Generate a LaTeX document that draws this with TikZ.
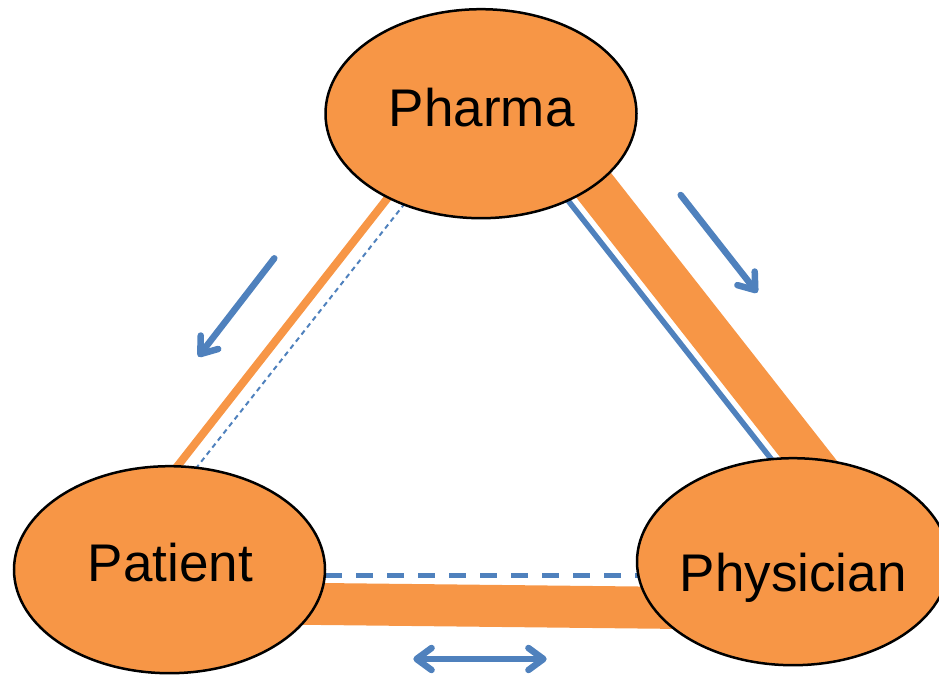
\documentclass[tikz,border=0pt]{standalone}
\usepackage{fontspec}
\setmainfont{Liberation Sans}
\usetikzlibrary{arrows.meta,shapes.geometric}
\definecolor{orng}{HTML}{F79646}
\definecolor{blu}{HTML}{4F81BD}
\begin{document}
\begin{tikzpicture}[x=1pt,y=-1pt,
  ell/.style={ellipse, draw=black, line width=2.5pt, fill=orng, inner sep=0pt},
  lbl/.style={anchor=base, inner sep=0pt, font=\fontsize{53}{60}\selectfont},
  band/.style={draw=orng, line cap=butt},
  flowarrow/.style={draw=blu, line width=6.5pt, line cap=round, -{Straight Barb[length=15pt,width=22pt,line cap=round,line join=round]}},
  flowboth/.style={draw=blu, line width=6.5pt, line cap=round,
     {Straight Barb[length=15pt,width=22pt,line cap=round,line join=round]}-{Straight Barb[length=15pt,width=22pt,line cap=round,line join=round]}}
]
\useasboundingbox (0,0) rectangle (939,675);
% connector end points (hidden under the ellipses)
\coordinate (lo1) at (158.7,490);  \coordinate (lo2) at (401.8,180);
\coordinate (ld1) at (178.9,490);  \coordinate (ld2) at (415.4,190);
\coordinate (rb1) at (551.9,180);  \coordinate (rb2) at (795.6,490);
\coordinate (ro1) at (566,150);    \coordinate (ro2) at (840.7,500);
\coordinate (bd1) at (325,575);    \coordinate (bd2) at (638,575);
\coordinate (bo1) at (250,603.2);  \coordinate (bo2) at (720,608.4);
% connectors
\draw[band, line width=8pt] (lo1) -- (lo2);
\draw[blu, line width=2pt, dash pattern=on 5pt off 4pt] (ld1) -- (ld2);
\draw[blu, line width=5.5pt] (rb1) -- (rb2);
\draw[band, line width=42.5pt] (ro1) -- (ro2);
\draw[band, line width=42pt] (bo1) -- (bo2);
\draw[blu, line width=5pt, dash pattern=on 17pt off 14pt] (bd1) -- (bd2);
% actors
\node[ell, minimum width=311pt, minimum height=209pt] (pharma) at (481,113.7) {};
\node[ell, minimum width=311pt, minimum height=207pt] (patient) at (169.5,569.7) {};
\node[ell, minimum width=312pt, minimum height=207pt] (physician) at (793,561.7) {};
\node[lbl] (pharmaT) at (481.7,126) {Pharma};
\node[lbl] (patientT) at (170.3,581.7) {Patient};
\node[lbl] (physicianT) at (793.3,591.7) {Physician};
% flow arrows
\coordinate (a1s) at (274.3,258.3); \coordinate (a1e) at (198.3,356.7);
\coordinate (a2s) at (680.7,195);   \coordinate (a2e) at (757.3,292.7);
\coordinate (a3s) at (413.3,659);   \coordinate (a3e) at (546.7,659);
\draw[flowarrow] (a1s) -- (a1e);
\draw[flowarrow] (a2s) -- (a2e);
\draw[flowboth] (a3s) -- (a3e);
\end{tikzpicture}
\end{document}
